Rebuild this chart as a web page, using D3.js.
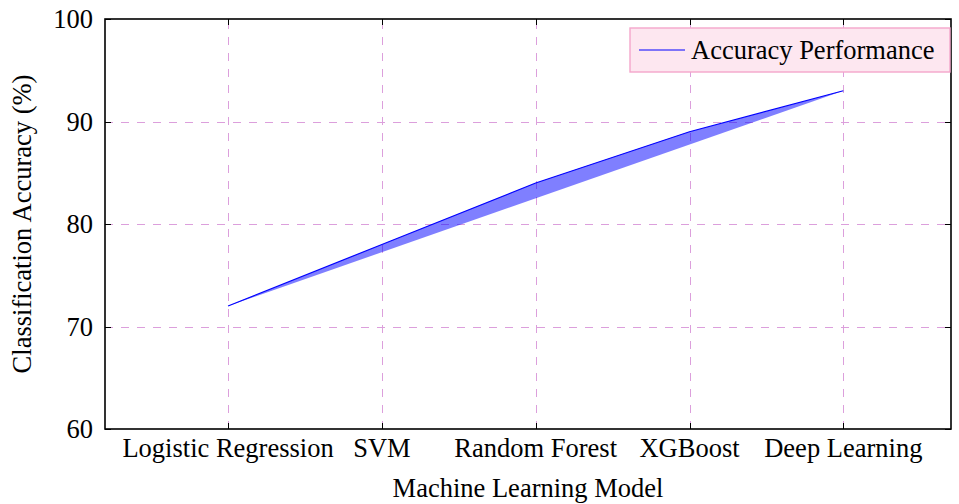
<!DOCTYPE html>
<html>
<head>
<meta charset="utf-8">
<script src="https://cdn.jsdelivr.net/npm/d3@7"></script>
<style>
	body { margin: 0; background: #fff; }
	text { font-family: "Liberation Serif", "Times New Roman", serif; fill: #000; }
</style>
</head>
<body>
<svg width="959" height="504"></svg>
<script>
// data
var models = ["Logistic Regression", "SVM", "Random Forest", "XGBoost", "Deep Learning"];
var accuracy = [72, 78, 84, 89, 93];
var yTicks = [60, 70, 80, 90, 100];
var seriesName = "Accuracy Performance";

function drawPlot() {
	var svg = d3.select("svg");
	var left = 105, right = 951, top = 19, bottom = 429;
	var fontSize = 26.5;

	var x = d3.scaleLinear().domain([-0.8, 4.7]).range([left, right]);
	var y = d3.scaleLinear().domain([60, 100]).range([bottom, top]);
	var px = v => Math.round(v) + 0.5;

	var grid = svg.append("g")
		.attr("stroke", "#dc9fdc")
		.attr("stroke-width", 1)
		.attr("stroke-dasharray", "8,8");
	grid.selectAll("line.v").data(models)
		.enter().append("line")
		.attr("x1", (d, i) => px(x(i))).attr("x2", (d, i) => px(x(i)))
		.attr("y1", bottom).attr("y2", top);
	grid.selectAll("line.h").data(yTicks.slice(1, -1))
		.enter().append("line")
		.attr("x1", left).attr("x2", right)
		.attr("y1", d => px(y(d))).attr("y2", d => px(y(d)));

	// series: polyline closed back to start and filled
	var pts = accuracy.map((v, i) => [x(i), y(v)]);
	var line = d3.line();
	svg.append("path")
		.attr("d", line(pts) + "Z")
		.attr("fill", "rgba(0,0,255,0.5)")
		.attr("stroke", "none");
	svg.append("path")
		.attr("d", line(pts))
		.attr("fill", "none")
		.attr("stroke", "#0000ff")
		.attr("stroke-width", 1.2);

	// ticks (inside) on all sides
	var ticks = svg.append("g").attr("stroke", "#000").attr("stroke-width", 1);
	models.forEach(function(m, i) {
		ticks.append("line").attr("x1", px(x(i))).attr("x2", px(x(i))).attr("y1", bottom).attr("y2", bottom - 6);
		ticks.append("line").attr("x1", px(x(i))).attr("x2", px(x(i))).attr("y1", top).attr("y2", top + 6);
	});
	yTicks.forEach(function(t) {
		ticks.append("line").attr("x1", left).attr("x2", left + 6).attr("y1", px(y(t))).attr("y2", px(y(t)));
		ticks.append("line").attr("x1", right).attr("x2", right - 6).attr("y1", px(y(t))).attr("y2", px(y(t)));
	});

	// frame
	svg.append("rect")
		.attr("x", left).attr("y", top)
		.attr("width", right - left).attr("height", bottom - top)
		.attr("fill", "none").attr("stroke", "#000").attr("stroke-width", 1.6);

	// tick labels
	svg.append("g").selectAll("text").data(models)
		.enter().append("text")
		.attr("x", (d, i) => x(i)).attr("y", 457)
		.attr("text-anchor", "middle")
		.style("font-size", fontSize + "px")
		.text(d => d);
	svg.append("g").selectAll("text").data(yTicks)
		.enter().append("text")
		.attr("x", 93).attr("y", d => y(d) + 9)
		.attr("text-anchor", "end")
		.style("font-size", fontSize + "px")
		.text(d => d);

	// axis titles
	svg.append("text")
		.attr("x", (left + right) / 2).attr("y", 497)
		.attr("text-anchor", "middle")
		.style("font-size", fontSize + "px")
		.text("Machine Learning Model");
	svg.append("text")
		.attr("transform", "translate(31," + ((top + bottom) / 2) + ")rotate(-90)")
		.attr("text-anchor", "middle")
		.style("font-size", fontSize + "px")
		.text("Classification Accuracy (%)");

	// legend
	var lg = svg.append("g");
	lg.append("rect")
		.attr("x", 630).attr("y", 28).attr("width", 320).attr("height", 44)
		.attr("fill", "#fde7f0").attr("stroke", "#f4a6cb").attr("stroke-width", 1.4);
	lg.append("line")
		.attr("x1", 639).attr("x2", 685).attr("y1", 50).attr("y2", 50)
		.attr("stroke", "#0000ff").attr("stroke-width", 1.2);
	lg.append("text")
		.attr("x", 691).attr("y", 59)
		.style("font-size", fontSize + "px")
		.text(seriesName);
}
drawPlot();
</script>
</body>
</html>
